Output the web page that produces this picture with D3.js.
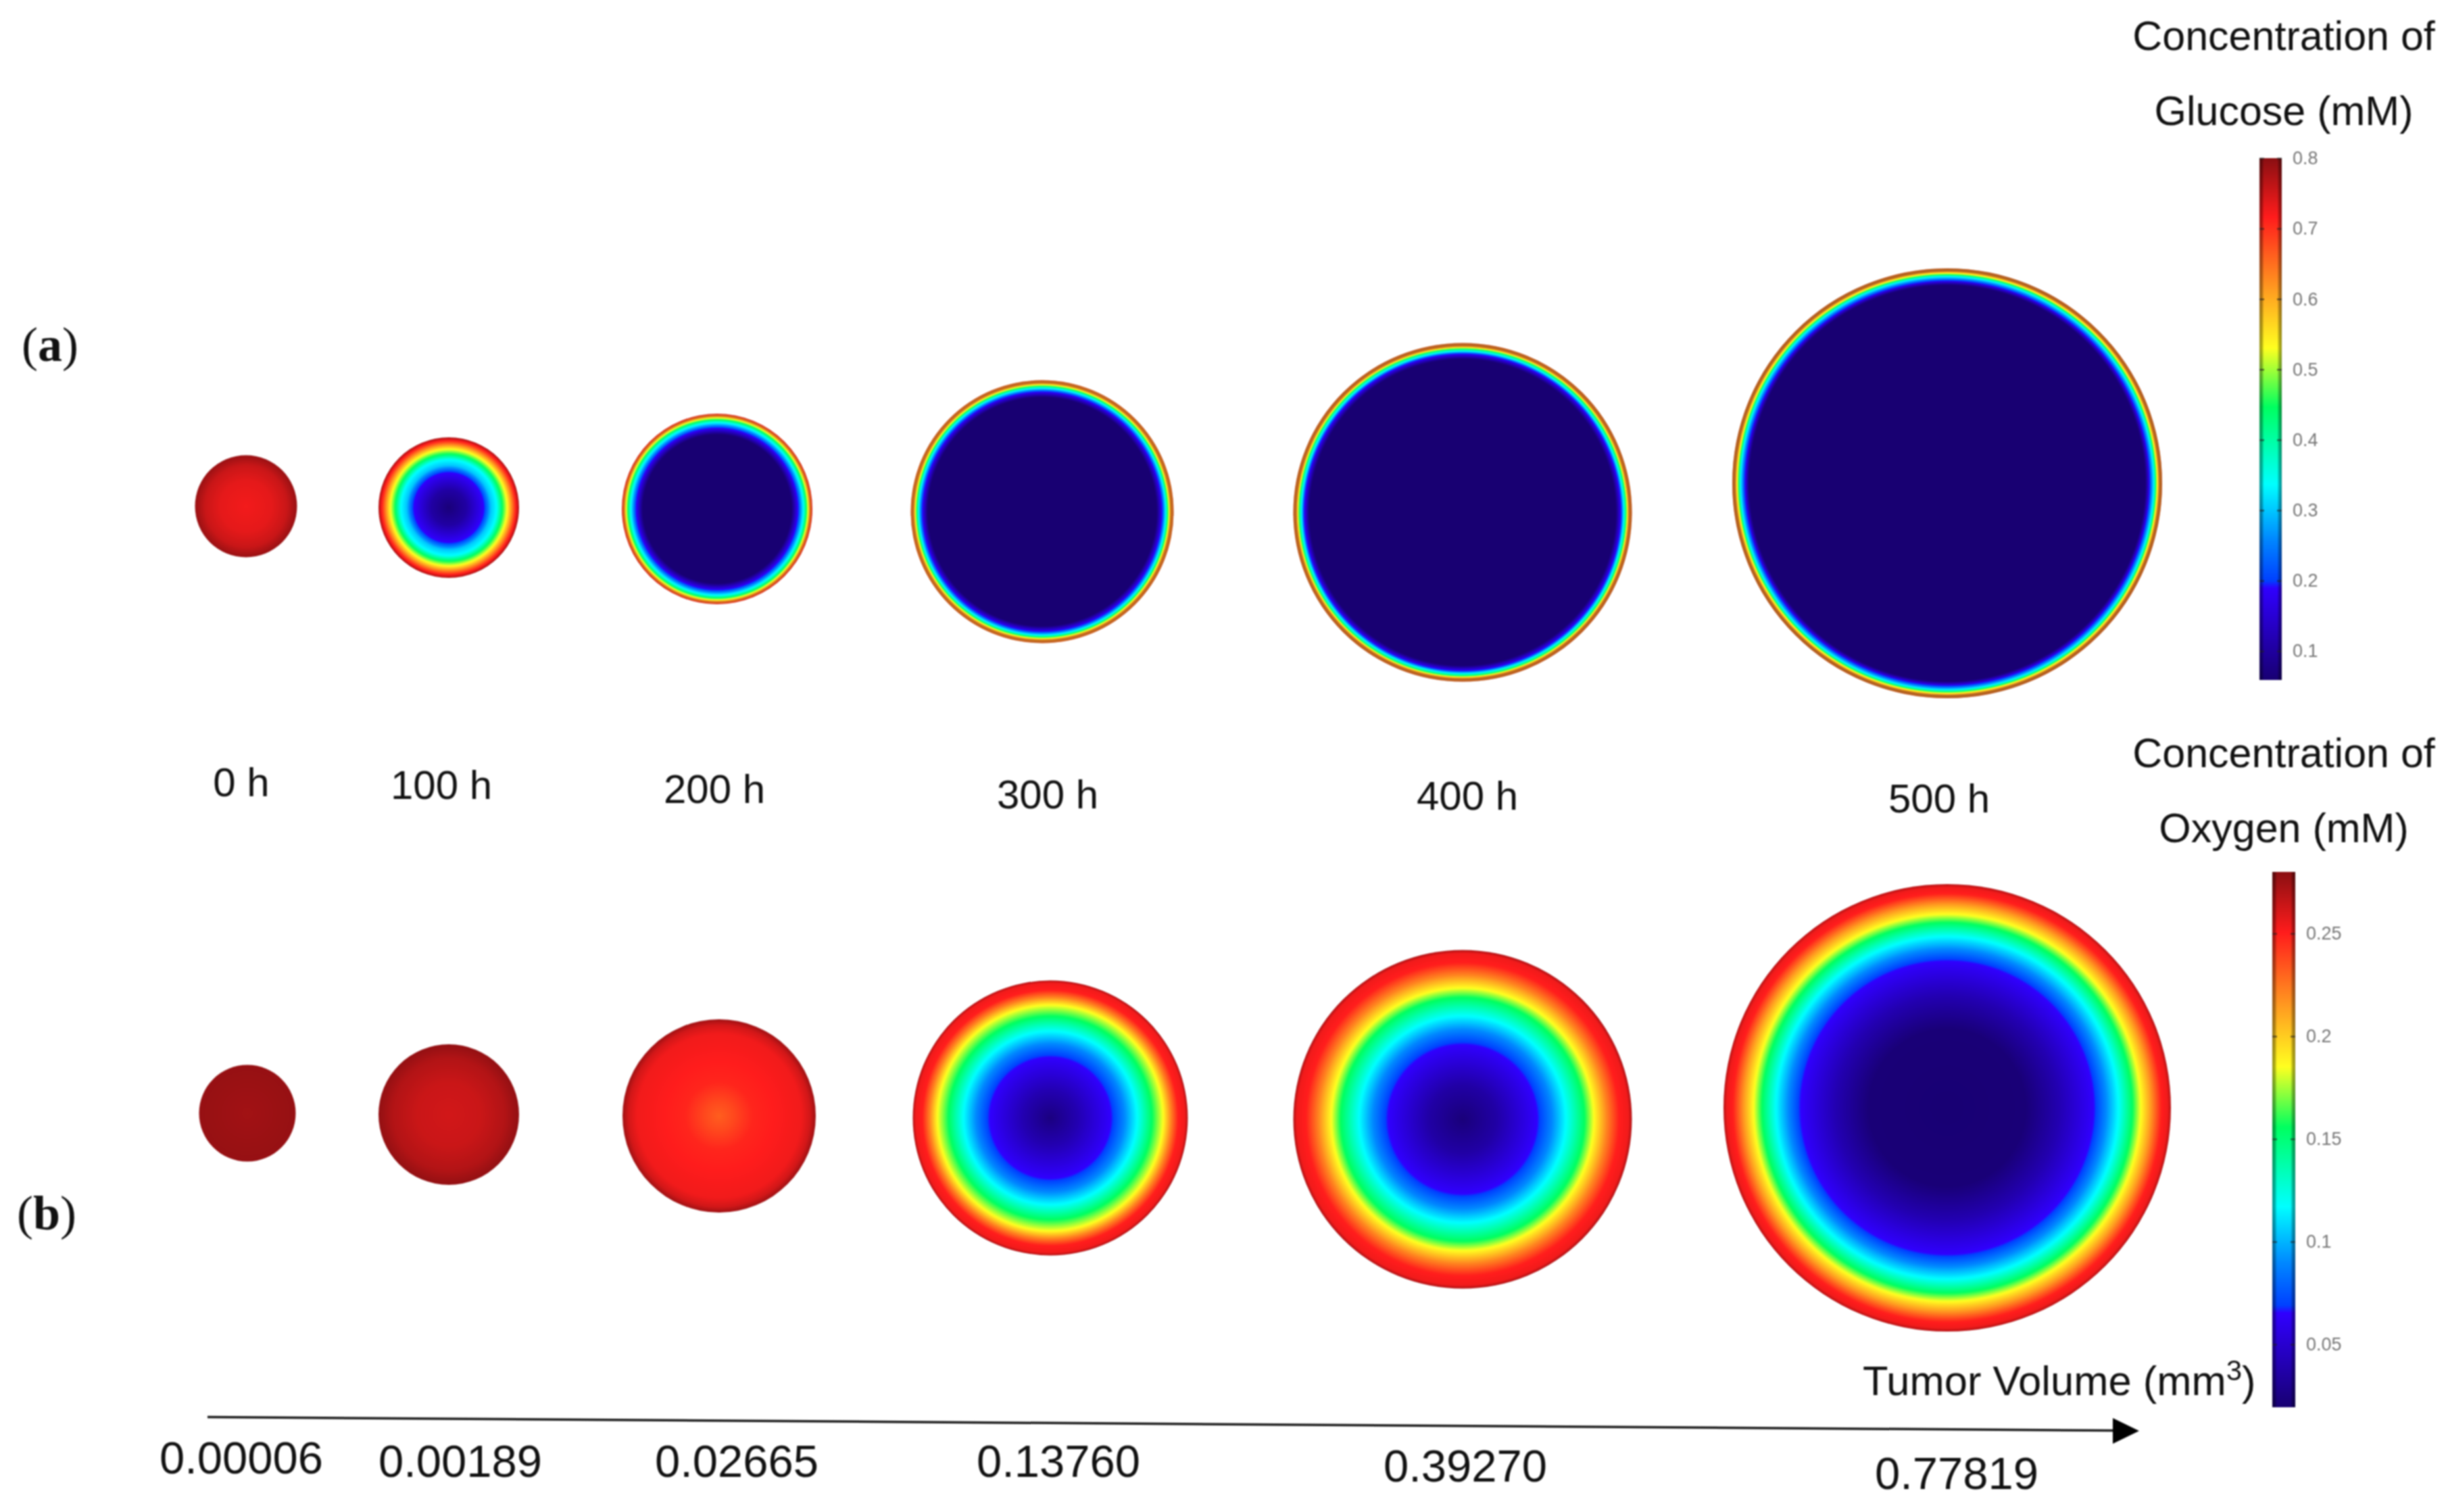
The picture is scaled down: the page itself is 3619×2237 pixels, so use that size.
<!DOCTYPE html>
<html>
<head>
<meta charset="utf-8">
<script src="https://cdn.jsdelivr.net/npm/d3@7"></script>
<style>
html,body{margin:0;padding:0;background:#fff;}
svg{display:block;filter:blur(0.9px);}
text{font-family:"Liberation Sans",Arial,sans-serif;fill:#111;}
</style>
</head>
<body>
<svg id="chart" width="3619" height="2237" viewBox="0 0 3619 2237"></svg>
<script>
// ---------- data ----------
const hours = [0, 100, 200, 300, 400, 500];
const volumeLabels = ["0.00006", "0.00189", "0.02665", "0.13760", "0.39270", "0.77819"];
const glucoseTicks = [0.8, 0.7, 0.6, 0.5, 0.4, 0.3, 0.2, 0.1];
const oxygenTicks = [0.25, 0.2, 0.15, 0.1, 0.05];
const glucoseRange = [0.059, 0.8];
const oxygenRange = [0.0194, 0.28];

// radial profiles: [fraction of the radius, concentration in mM]
const glucose0h   = [[0,0.725],[0.5,0.735],[0.8,0.755],[1,0.79]];
const glucose100h = [[0,0.066],[0.25,0.105],[0.5,0.19],[0.6,0.30],[0.68,0.337],[0.76,0.446],[0.83,0.53],[0.89,0.62],[0.95,0.71],[1,0.78]];
const glucose200h = [[0,0.059],[0.78,0.059],[0.85,0.19],[0.905,0.337],[0.935,0.446],[0.955,0.53],[0.972,0.62],[0.988,0.68],[1,0.72]];
const glucose300h = [[0,0.059],[0.87,0.059],[0.912,0.19],[0.94,0.337],[0.953,0.446],[0.965,0.53],[0.975,0.62],[1,0.66]];
const glucose400h = [[0,0.059],[0.905,0.059],[0.936,0.19],[0.952,0.337],[0.965,0.446],[0.972,0.53],[0.98,0.62],[1,0.66]];
const glucose500h = [[0,0.059],[0.922,0.059],[0.942,0.19],[0.962,0.337],[0.97,0.446],[0.976,0.53],[0.985,0.62],[1,0.66]];
const oxygen0h    = [[0,0.274],[1,0.277]];
const oxygen100h  = [[0,0.262],[0.45,0.264],[0.8,0.270],[1,0.278]];
const oxygen200h  = [[0,0.232],[0.15,0.238],[0.35,0.248],[0.6,0.251],[0.85,0.254],[0.94,0.262],[1,0.275]];
const oxygen300h  = [[0,0.024],[0.2,0.040],[0.44,0.065],[0.54,0.090],[0.63,0.117],[0.74,0.156],[0.82,0.185],[0.875,0.22],[0.93,0.25],[0.98,0.254],[1,0.272]];
const oxygen400h  = [[0,0.022],[0.2,0.036],[0.44,0.065],[0.53,0.090],[0.61,0.117],[0.72,0.156],[0.775,0.185],[0.85,0.22],[0.925,0.25],[0.98,0.254],[1,0.272]];
const oxygen500h  = [[0,0.02],[0.35,0.021],[0.5,0.04],[0.655,0.065],[0.71,0.09],[0.765,0.117],[0.828,0.156],[0.865,0.185],[0.91,0.215],[0.958,0.25],[0.985,0.254],[1,0.27]];

// ---------- colour map ----------
const rainbowPositions = [0, 0.176, 0.19, 0.27, 0.375, 0.523, 0.636, 0.75, 0.887, 1];
const rainbowColors = ["#180072", "#3000ff", "#0040ff", "#0088ff", "#00ffff", "#00ff60", "#ffff20", "#ff9a20", "#ff1c1c", "#8a0f12"];

function rainbowScale(range) {
  return d3.scaleLinear()
    .domain(rainbowPositions.map(t => range[0] + t * (range[1] - range[0])))
    .range(rainbowColors)
    .interpolate(d3.interpolateRgb)
    .clamp(true);
}
const glucoseColor = rainbowScale(glucoseRange);
const oxygenColor = rainbowScale(oxygenRange);

// ---------- layout scales ----------
const glucoseX = d3.scaleOrdinal(hours, [364, 664, 1061, 1542, 2164, 2881]);
const glucoseY = d3.scaleOrdinal(hours, [749, 751, 753, 757, 758, 715]);
const glucoseR = d3.scaleOrdinal(hours, [75.5, 104, 141, 194.5, 250.5, 318]);
const glucoseRim = d3.scaleOrdinal(hours, [0, 0, 0.25, 0.4, 0.45, 0.5]);
const oxygenX  = d3.scaleOrdinal(hours, [366, 664, 1064, 1554, 2164, 2881]);
const oxygenY  = d3.scaleOrdinal(hours, [1647, 1649, 1651, 1654, 1656, 1639]);
const oxygenR  = d3.scaleOrdinal(hours, [71.5, 104, 143, 203.5, 250.5, 331]);
const hourLabelX = d3.scaleOrdinal(hours, [357, 653, 1057, 1550, 2171, 2869]);
const hourLabelY = d3.scaleOrdinal(hours, [1178, 1182, 1188, 1196, 1198, 1202]);
const volumeLabelX = d3.scaleOrdinal(volumeLabels, [357, 681, 1090, 1566, 2168, 2895]);
const volumeLabelY = d3.scaleOrdinal(volumeLabels, [2180, 2185, 2185, 2185, 2192, 2203]);
const glucoseBarY = d3.scaleLinear().domain(glucoseRange).range([1006, 234]);
const oxygenBarY  = d3.scaleLinear().domain(oxygenRange).range([2082, 1290]);

const svg = d3.select("#chart");
const defs = svg.append("defs");

// ---------- tumour discs ----------
function drawDiscs(name, profiles, color, x, y, r) {
  profiles.forEach((profile, i) => {
    const value = d3.scaleLinear().domain(profile.map(p => p[0])).range(profile.map(p => p[1]));
    const grad = defs.append("radialGradient").attr("id", name + hours[i]);
    grad.selectAll("stop").data(d3.range(0, 1.0001, 1 / 300)).join("stop")
      .attr("offset", d => d)
      .attr("stop-color", d => color(value(Math.min(d, 1))));
  });
  return svg.append("g").attr("class", name)
    .selectAll("circle").data(hours).join("circle")
    .attr("cx", d => x(d)).attr("cy", d => y(d)).attr("r", d => r(d))
    .attr("fill", d => `url(#${name}${d})`);
}
drawDiscs("glucose", [glucose0h, glucose100h, glucose200h, glucose300h, glucose400h, glucose500h],
  glucoseColor, glucoseX, glucoseY, glucoseR);
// brownish blended rim of the thin glucose rings
svg.append("g").attr("class", "glucose-rim")
  .selectAll("circle").data(hours).join("circle")
  .attr("cx", d => glucoseX(d)).attr("cy", d => glucoseY(d)).attr("r", d => glucoseR(d) - 2.5)
  .attr("fill", "none").attr("stroke", "#6b4a20").attr("stroke-width", 5)
  .attr("stroke-opacity", d => glucoseRim(d));
drawDiscs("oxygen", [oxygen0h, oxygen100h, oxygen200h, oxygen300h, oxygen400h, oxygen500h],
  oxygenColor, oxygenX, oxygenY, oxygenR);

// ---------- colour bars ----------
const edge = defs.append("linearGradient").attr("id", "barEdge");
[[0, 0.42], [0.12, 0.3], [0.2, 0], [0.8, 0], [0.88, 0.3], [1, 0.42]].forEach(s =>
  edge.append("stop").attr("offset", s[0]).attr("stop-color", "#000").attr("stop-opacity", s[1]));

function drawBar(name, color, range, y, ticks, x0, x1) {
  const grad = defs.append("linearGradient").attr("id", name + "Bar")
    .attr("x1", 0).attr("x2", 0).attr("y1", 1).attr("y2", 0);
  grad.selectAll("stop").data(rainbowPositions).join("stop")
    .attr("offset", d => d)
    .attr("stop-color", d => color(range[0] + d * (range[1] - range[0])));
  const top = y(range[1]), h = y(range[0]) - top;
  const g = svg.append("g").attr("class", name + "-bar");
  g.append("rect").attr("x", x0).attr("y", top).attr("width", x1 - x0).attr("height", h)
    .attr("fill", `url(#${name}Bar)`);
  g.append("rect").attr("x", x0).attr("y", top).attr("width", x1 - x0).attr("height", h)
    .attr("fill", "url(#barEdge)");
  const right = g.append("g").attr("transform", `translate(${x1},0)`)
    .call(d3.axisRight(y).tickValues(ticks).tickSizeInner(-7).tickSizeOuter(0).tickPadding(16).tickFormat(d => String(d)));
  const left = g.append("g").attr("transform", `translate(${x0},0)`)
    .call(d3.axisLeft(y).tickValues(ticks).tickSizeInner(-7).tickSizeOuter(0).tickFormat(""));
  [right, left].forEach(a => {
    a.select(".domain").remove();
    a.selectAll("line").attr("stroke", "#222").attr("stroke-width", 2).attr("stroke-opacity", 0.75);
    a.selectAll("text").attr("font-size", 27).style("fill", "#777");
  });
}
drawBar("glucose", glucoseColor, glucoseRange, glucoseBarY, glucoseTicks, 3343, 3376);
drawBar("oxygen", oxygenColor, oxygenRange, oxygenBarY, oxygenTicks, 3362, 3396);

// ---------- text ----------
const label = (x, y, s, size, anchor) => svg.append("text")
  .attr("x", x).attr("y", y).attr("font-size", size).attr("text-anchor", anchor || "middle").text(s);

label(3379, 74, "Concentration of", 61);
label(3379, 185, "Glucose (mM)", 61);
label(3379, 1135, "Concentration of", 61);
label(3379, 1246, "Oxygen (mM)", 61);
const volumeTitle = label(2756, 2064, "Tumor Volume (mm", 61.5, "start");
volumeTitle.append("tspan").attr("font-size", 42).attr("dy", -22).text("3");
volumeTitle.append("tspan").attr("dy", 22).text(")");

svg.append("g").selectAll("text").data(hours).join("text")
  .attr("x", d => hourLabelX(d)).attr("y", d => hourLabelY(d))
  .attr("font-size", 60).attr("text-anchor", "middle").text(d => d + " h");

svg.append("g").selectAll("text").data(volumeLabels).join("text")
  .attr("x", d => volumeLabelX(d)).attr("y", d => volumeLabelY(d))
  .attr("font-size", 67).attr("text-anchor", "middle").text(d => d);

[["a", 32, 534], ["b", 25, 1819]].forEach(p => {
  const t = svg.append("text").attr("x", p[1]).attr("y", p[2]).attr("font-size", 72)
    .style("font-family", '"Liberation Serif","Times New Roman",serif');
  t.append("tspan").text("(");
  t.append("tspan").attr("font-weight", "bold").text(p[0]);
  t.append("tspan").text(")");
});

// ---------- volume arrow ----------
svg.append("line").attr("x1", 307).attr("y1", 2096.5).attr("x2", 3130).attr("y2", 2116.5)
  .attr("stroke", "#1a1a1a").attr("stroke-width", 3.5);
svg.append("path").attr("d", "M3165,2117L3126,2098L3126,2136Z").attr("fill", "#000");
</script>
</body>
</html>
